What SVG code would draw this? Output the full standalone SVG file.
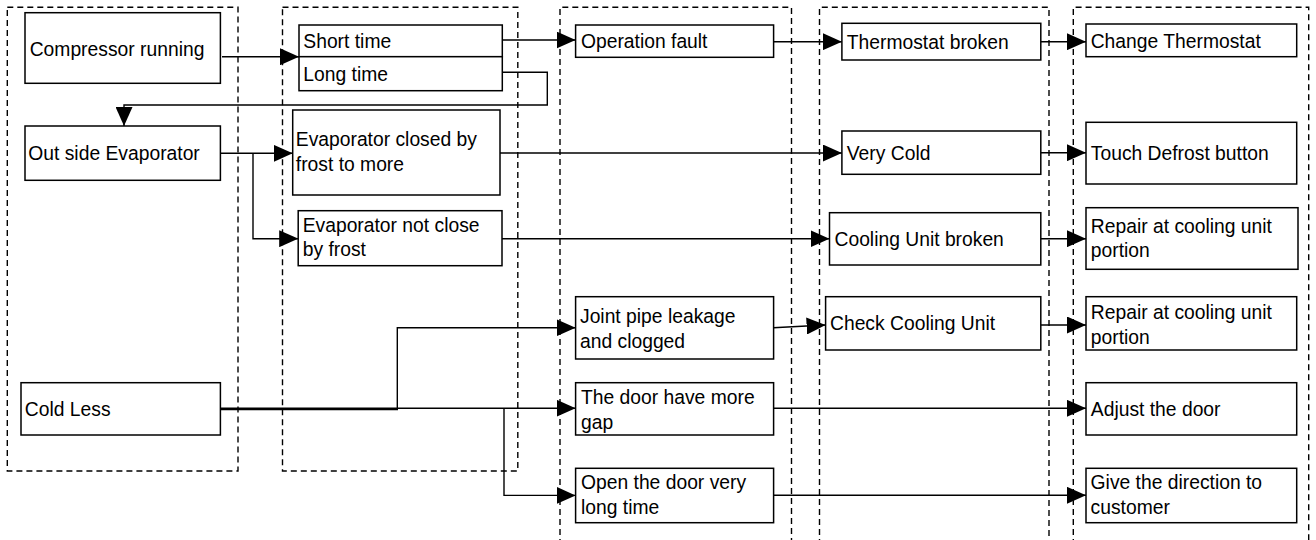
<svg xmlns="http://www.w3.org/2000/svg" width="1316" height="540" viewBox="0 0 1316 540">
<style>
.grp{fill:none;stroke:#000;stroke-width:1.4;stroke-dasharray:6 4}
.box{fill:#fff;stroke:#000;stroke-width:1.5}
.con{fill:none;stroke:#000;stroke-width:1.4}
text{font-family:"Liberation Sans",Arial,sans-serif;font-size:19.3px;fill:#000}
</style>
<defs>
<marker id="ah" markerUnits="userSpaceOnUse" markerWidth="19" markerHeight="17" refX="19" refY="8.5" orient="auto" viewBox="0 0 19 17">
<path d="M0,0 L19,8.5 L0,17 Z" fill="#000"/>
</marker>
</defs>
<rect width="1316" height="540" fill="#fff"/>
<g id="lanes">
<rect class="grp" x="7.3" y="7.3" width="230.7" height="463.7"/>
<rect class="grp" x="282.5" y="7.3" width="235.3" height="463.7"/>
<path class="grp" d="M560,545 V7.3 H791.5 V545"/>
<path class="grp" d="M819.5,545 V7.3 H1049 V545"/>
<path class="grp" d="M1073.3,545 V7.3 H1308.7 V545"/>
</g>
<g id="connectors">
<path class="con" d="M222,56.7 H299" marker-end="url(#ah)"/>
<path class="con" d="M502.3,40 H575.6" marker-end="url(#ah)"/>
<path class="con" d="M502.3,72.3 H547.3 V105 H124 V126" marker-end="url(#ah)"/>
<path class="con" d="M220.4,153.3 H292.7" marker-end="url(#ah)"/>
<path class="con" d="M253,153.3 V238.7 H298.2" marker-end="url(#ah)"/>
<path class="con" d="M773.6,41.7 H841.9" marker-end="url(#ah)"/>
<path class="con" d="M1040.8,41.7 H1086" marker-end="url(#ah)"/>
<path class="con" d="M500,153 H841.9" marker-end="url(#ah)"/>
<path class="con" d="M1040.8,152.7 H1086" marker-end="url(#ah)"/>
<path class="con" d="M502,238.7 H829.5" marker-end="url(#ah)"/>
<path class="con" d="M1040.8,238.7 H1086" marker-end="url(#ah)"/>
<path class="con" d="M220.4,409.6 H397.3 V327.7 H575.6" marker-end="url(#ah)"/>
<path class="con" d="M220.4,408.2 H575.6" marker-end="url(#ah)"/>
<path class="con" d="M504,408.2 V495.4 H575.6" marker-end="url(#ah)"/>
<path class="con" d="M773.3,327.7 L825.6,325" marker-end="url(#ah)"/>
<path class="con" d="M1040.8,325 H1086" marker-end="url(#ah)"/>
<path class="con" d="M773.6,408.3 H1086" marker-end="url(#ah)"/>
<path class="con" d="M773.6,495.3 H1086" marker-end="url(#ah)"/>
</g>
<g id="n-compressor"><rect class="box" x="25" y="12.7" width="195.4" height="70.6"/><text x="29.7" y="56">Compressor running</text></g>
<g id="n-short"><rect class="box" x="299" y="25" width="203.3" height="31.7"/><text x="303.3" y="47.7">Short time</text></g>
<g id="n-long"><rect class="box" x="299" y="56.7" width="203.3" height="34"/><text x="303.3" y="81">Long time</text></g>
<g id="n-outside"><rect class="box" x="25" y="126" width="195.4" height="54.3"/><text x="28.3" y="160.3">Out side Evaporator</text></g>
<g id="n-evclosed"><rect class="box" x="292.7" y="110" width="207.3" height="85"/><text x="295.8" y="146.3">Evaporator closed by</text><text x="295.8" y="171.3">frost to more</text></g>
<g id="n-evnot"><rect class="box" x="298.2" y="210.7" width="203.8" height="55"/><text x="302.7" y="232.3">Evaporator not close</text><text x="302.7" y="256.3">by frost</text></g>
<g id="n-coldless"><rect class="box" x="21" y="382.7" width="199.4" height="52.3"/><text x="24.8" y="416">Cold Less</text></g>
<g id="n-opfault"><rect class="box" x="575.6" y="25" width="198" height="32.3"/><text x="581" y="47.7">Operation fault</text></g>
<g id="n-joint"><rect class="box" x="575.6" y="296.7" width="198" height="62.3"/><text x="580" y="323">Joint pipe leakage</text><text x="580" y="347.7">and clogged</text></g>
<g id="n-doorgap"><rect class="box" x="575.6" y="382.7" width="198" height="52.3"/><text x="581" y="403.7">The door have more</text><text x="581" y="429.3">gap</text></g>
<g id="n-opendoor"><rect class="box" x="575.6" y="468.3" width="198" height="54.4"/><text x="581" y="489.3">Open the door very</text><text x="581" y="514.3">long time</text></g>
<g id="n-thermo"><rect class="box" x="841.9" y="23.3" width="198.9" height="36.7"/><text x="846.8" y="48.7">Thermostat broken</text></g>
<g id="n-verycold"><rect class="box" x="841.9" y="131" width="198.9" height="43.3"/><text x="846.8" y="159.7">Very Cold</text></g>
<g id="n-coolbroken"><rect class="box" x="829.5" y="212.7" width="211.3" height="52.3"/><text x="834.5" y="245.7">Cooling Unit broken</text></g>
<g id="n-checkcool"><rect class="box" x="825.6" y="296.7" width="215.2" height="53.3"/><text x="830" y="330.3">Check Cooling Unit</text></g>
<g id="n-change"><rect class="box" x="1086" y="24" width="210.7" height="32.7"/><text x="1090.7" y="47.7">Change Thermostat</text></g>
<g id="n-defrost"><rect class="box" x="1086" y="122.3" width="210.7" height="61.7"/><text x="1090.8" y="159.7">Touch Defrost button</text></g>
<g id="n-repair1"><rect class="box" x="1086" y="207.7" width="212" height="61.6"/><text x="1090.8" y="232.7">Repair at cooling unit</text><text x="1090.8" y="257">portion</text></g>
<g id="n-repair2"><rect class="box" x="1086" y="296.7" width="210.7" height="53.3"/><text x="1090.8" y="318.7">Repair at cooling unit</text><text x="1090.8" y="343.7">portion</text></g>
<g id="n-adjust"><rect class="box" x="1086" y="382.7" width="210.7" height="52.3"/><text x="1090.8" y="416.3">Adjust the door</text></g>
<g id="n-give"><rect class="box" x="1086" y="468.3" width="210.7" height="54.4"/><text x="1090.6" y="488.7">Give the direction to</text><text x="1090.6" y="514.3">customer</text></g>
</svg>
